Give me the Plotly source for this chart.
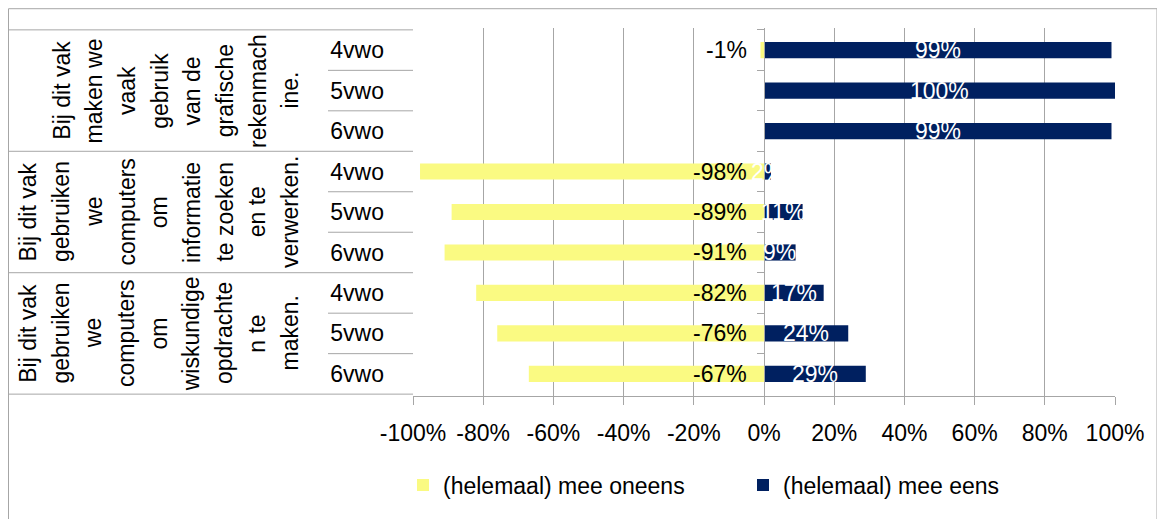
import plotly.graph_objects as go

# ---- data ----
group_lines = [
    ["Bij dit vak", "maken we", "vaak", "gebruik", "van de", "grafische", "rekenmach", "ine."],
    ["Bij dit vak", "gebruiken", "we", "computers", "om", "informatie", "te zoeken", "en te", "verwerken."],
    ["Bij dit vak", "gebruiken", "we", "computers", "om", "wiskundige", "opdrachte", "n te", "maken."],
]
levels = ["4vwo", "5vwo", "6vwo"]
oneens = [-1, None, None, -98, -89, -91, -82, -76, -67]
eens = [99, 100, 99, 2, 11, 9, 17, 24, 29]
x_tickvals = [-100, -80, -60, -40, -20, 0, 20, 40, 60, 80, 100]
x_ticktext = ["-100%", "-80%", "-60%", "-40%", "-20%", "0%", "20%", "40%", "60%", "80%", "100%"]
series_names = ["(helemaal) mee oneens", "(helemaal) mee eens"]

# ---- style ----
YELLOW = "#FAFA82"
NAVY = "#002060"
GRID = "#A6A6A6"
FONT = "Liberation Sans, Arial, sans-serif"
FS = 23

OFF = 8  # page body margin of the html page
W, H = 1165 - OFF, 519 - OFF
PLOT_L, PLOT_T = 413, 28          # page coordinates of plot area
PW, PH = 702, 372
ML, MT = PLOT_L - OFF, PLOT_T - OFF
MR, MB = W - ML - PW, H - MT - PH

def px2x(px):  # page x -> paper x
    return (px - PLOT_L) / PW

def py2y(py):  # page y -> paper y
    return (PLOT_T + PH - py) / PH

cats = [f"g{gi}|{lv}" for gi in range(len(group_lines)) for lv in levels]
cat_text = [lv for _ in group_lines for lv in levels]

fig = go.Figure()
fig.add_trace(go.Bar(y=cats, x=oneens, orientation="h", name=series_names[0],
                     marker=dict(color=YELLOW, line=dict(width=0)), hoverinfo="skip"))
fig.add_trace(go.Bar(y=cats, x=eens, orientation="h", name=series_names[1],
                     marker=dict(color=NAVY, line=dict(width=0)), hoverinfo="skip"))
# invisible helper trace for the axis line at x = 0
fig.add_trace(go.Scatter(y=cats, x=[None] * len(cats), yaxis="y2", mode="markers",
                         showlegend=False, hoverinfo="skip"))

annotations = []
# data labels
for c, v in zip(cats, oneens):
    if v is None:
        continue
    annotations.append(dict(x=0, y=c, xref="x", yref="y", text=f"{v}%", showarrow=False,
                            xanchor="right", yanchor="middle", xshift=-15,
                            font=dict(family=FONT, size=FS, color="black")))
for c, v in zip(cats, eens):
    annotations.append(dict(x=v / 2, y=c, xref="x", yref="y", text=f"{v}%", showarrow=False,
                            xanchor="center", yanchor="middle",
                            font=dict(family=FONT, size=FS, color="white")))

# group labels (rotated, one column per line, right-aligned block)
COL_STEP = 32.7
LAST_COL = 290.0
for gi, lines in enumerate(group_lines):
    mid = cats[gi * 3 + 1]
    n = len(lines)
    for li, t in enumerate(lines):
        cx = LAST_COL - (n - 1 - li) * COL_STEP
        annotations.append(dict(x=px2x(cx), y=mid, xref="paper", yref="y", text=t,
                                showarrow=False, textangle=-90, xanchor="center",
                                yanchor="middle",
                                font=dict(family=FONT, size=FS, color="black")))

shapes = []
# outer chart border
shapes.append(dict(type="rect", xref="paper", yref="paper", x0=px2x(8.5), x1=px2x(1157),
                   y0=py2y(540), y1=py2y(8.5), line=dict(color=GRID, width=1), layer="below"))
# table: group separators
for b in [-0.5, 2.5, 5.5, 8.5]:
    shapes.append(dict(type="line", xref="paper", yref="y", x0=px2x(8), x1=0, y0=b, y1=b,
                       line=dict(color=GRID, width=1)))
# table: row separators inside groups
for b in [0.5, 1.5, 3.5, 4.5, 6.5, 7.5]:
    shapes.append(dict(type="line", xref="paper", yref="y", x0=px2x(328), x1=0, y0=b, y1=b,
                       line=dict(color=GRID, width=1)))

fig.update_layout(
    width=W, height=H,
    margin=dict(l=ML, r=MR, t=MT, b=MB, pad=0),
    paper_bgcolor="white", plot_bgcolor="white",
    barmode="relative", bargap=0.6,
    font=dict(family=FONT, size=FS, color="black"),
    xaxis=dict(range=[-100, 100], tickvals=x_tickvals, ticktext=x_ticktext,
               showgrid=True, gridcolor=GRID, gridwidth=1, zeroline=False,
               showline=True, linecolor=GRID, linewidth=1,
               ticks="outside", ticklen=8, tickcolor=GRID, tickwidth=1,
               ticklabelstandoff=8,
               tickfont=dict(family=FONT, size=FS, color="black")),
    yaxis=dict(type="category", categoryarray=cats, categoryorder="array",
               autorange="reversed", tickvals=cats, ticktext=cat_text,
               showgrid=False, zeroline=False, showline=False, ticks="",
               ticklabelstandoff=28,
               tickfont=dict(family=FONT, size=FS, color="black")),
    yaxis2=dict(type="category", overlaying="y", matches="y", anchor="free", position=0.5,
                side="left", showgrid=False, zeroline=False, showline=True,
                linecolor=GRID, linewidth=1, ticks="outside", ticklen=7,
                tickcolor=GRID, tickson="boundaries", showticklabels=False),
    legend=dict(orientation="h", x=px2x(403), xanchor="left", y=py2y(490), yanchor="middle",
                font=dict(family=FONT, size=FS, color="black"), bgcolor="rgba(0,0,0,0)",
                traceorder="normal", entrywidth=295),
    annotations=annotations,
    shapes=shapes,
    showlegend=True,
)

fig.write_html("out.html")
